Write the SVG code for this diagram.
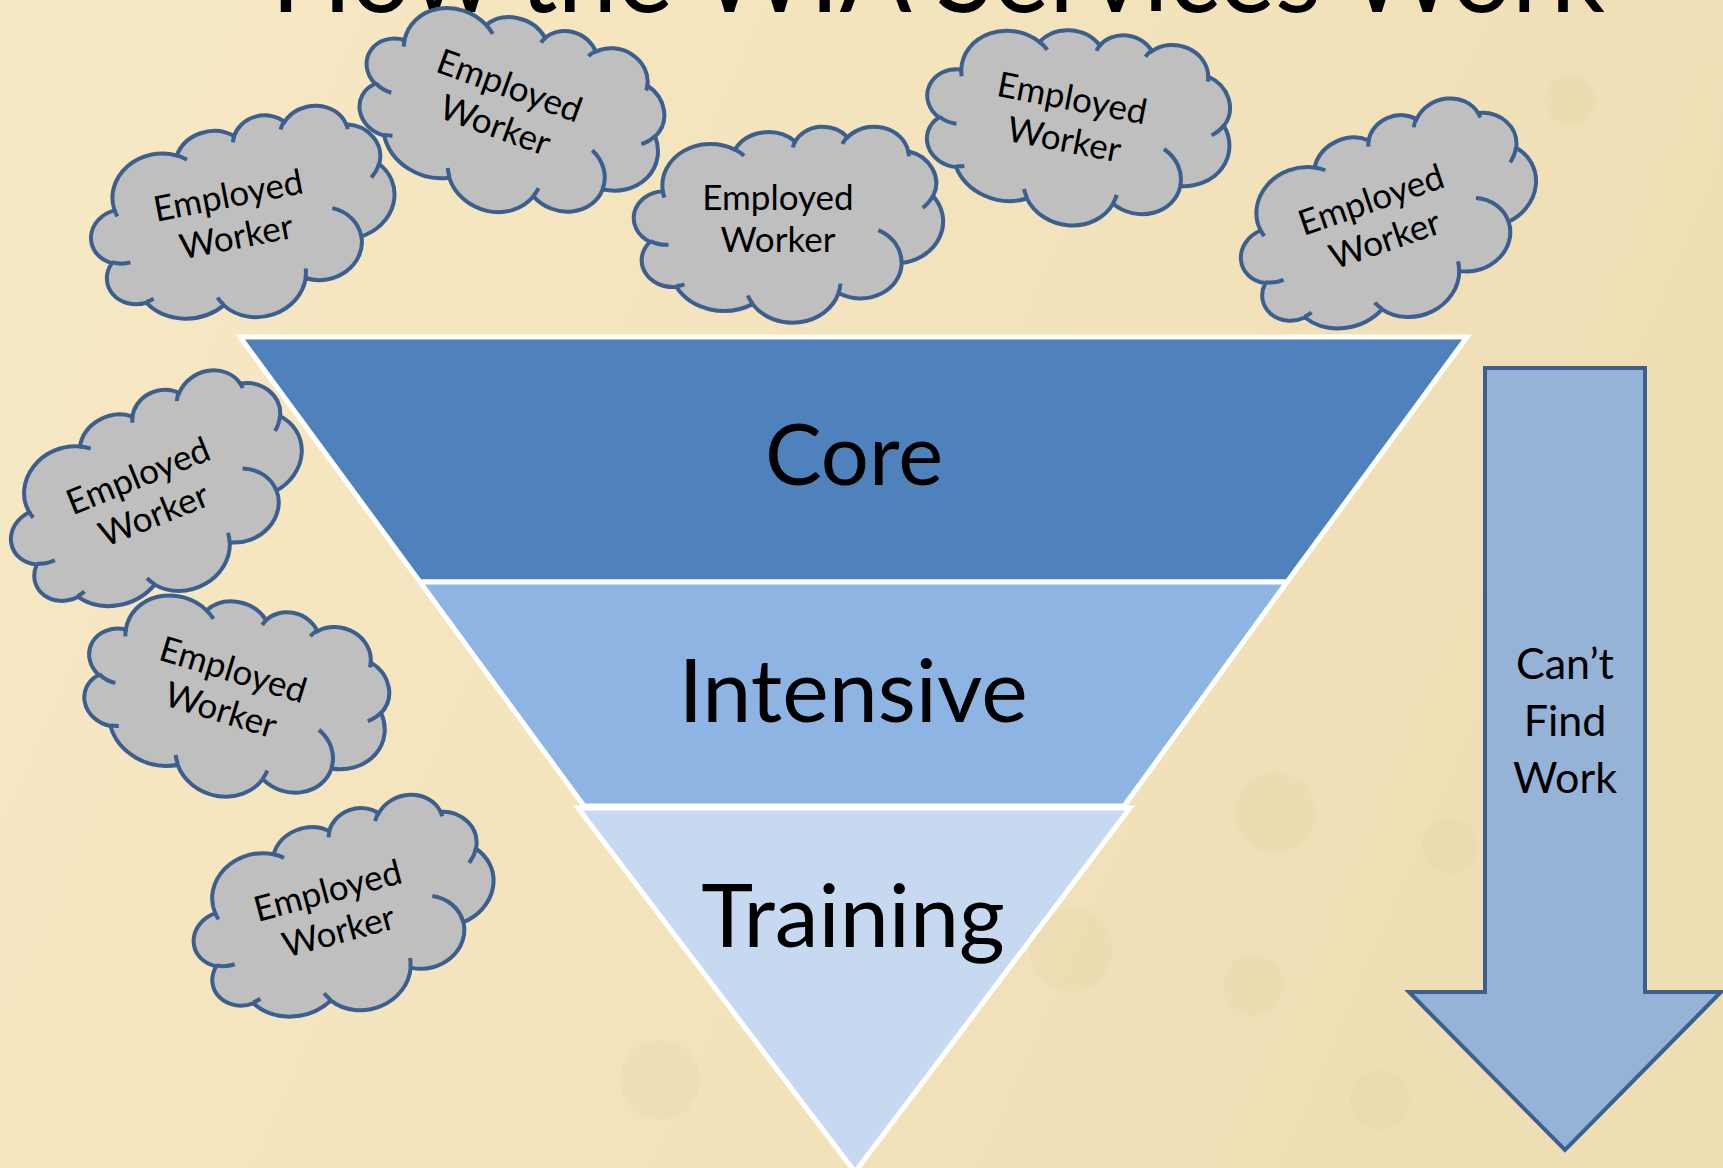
<svg xmlns="http://www.w3.org/2000/svg" xmlns:xlink="http://www.w3.org/1999/xlink" width="1723" height="1168" viewBox="0 0 1723 1168">
<style>
.cs{fill:#BFBFBF;stroke:#3B5F8F;stroke-width:4}
.ci{fill:none;stroke:#3B5F8F;stroke-width:4}
.ct{font-family:Lato,"Open Sans",sans-serif;font-size:35px;fill:#000;text-anchor:middle}
.fun{stroke:#FFFFFF;stroke-width:5;stroke-linejoin:miter}
.big{font-family:Lato,"Open Sans",sans-serif;font-size:85px;fill:#000;text-anchor:middle}
.arr{fill:#95B3D7;stroke:#3B5F8F;stroke-width:4}
.at{font-family:Lato,"Open Sans",sans-serif;font-size:43px;fill:#000;text-anchor:middle}
.blot{fill:#E3CF9E;opacity:0.2}
</style>
<defs>
<linearGradient id="bg" x1="0" y1="0" x2="1" y2="0.3">
<stop offset="0" stop-color="#F7E9C5"/>
<stop offset="0.5" stop-color="#F4E4BD"/>
<stop offset="1" stop-color="#EFDEB4"/>
</linearGradient>
<path id="cloud" vector-effect="non-scaling-stroke" d="M 39.00 143.70 A 67.53 91.90 0 0 1 140.06 52.02 A 53.33 72.67 0 0 1 224.56 34.32 A 43.65 59.45 0 0 1 298.34 24.81 A 48.57 65.95 0 0 1 383.19 55.77 A 53.33 72.73 0 0 1 418.19 154.60 A 67.75 92.20 0 0 1 374.04 302.01 A 57.85 78.67 0 0 1 285.55 368.11 A 67.52 92.15 0 0 1 164.80 392.62 A 77.20 105.43 0 0 1 58.03 354.68 A 43.60 59.18 0 0 1 21.12 255.46 A 43.45 59.45 0 0 1 39.00 143.70 Z"/>
<path id="cloudIn" vector-effect="non-scaling-stroke" d="M 46.93 261.77 A 43.45 59.45 0 0 1 21.60 253.80 M 69.28 348.99 A 43.60 59.18 0 0 1 58.19 352.81 M 164.78 390.90 A 67.52 92.15 0 0 1 158.10 373.50 M 288.27 347.51 A 67.52 92.15 0 0 1 285.60 366.60 M 341.29 229.54 A 57.85 78.67 0 0 1 373.80 300.90 M 417.98 153.54 A 53.33 72.73 0 0 1 403.50 180.30 M 383.24 54.26 A 48.57 65.95 0 0 1 384.00 66.90 M 290.78 39.52 A 48.57 65.95 0 0 1 298.20 23.39 M 221.41 47.20 A 43.65 59.45 0 0 1 225.00 33.31 M 140.00 51.92 A 67.53 91.90 0 0 1 152.99 65.40 M 41.27 157.89 A 67.53 91.90 0 0 1 39.00 143.70"/>
</defs>

<g id="background">
<rect x="0" y="0" width="1723" height="1168" fill="url(#bg)"/>
<circle class="blot" cx="1275" cy="813" r="40"/>
<circle class="blot" cx="1071" cy="950" r="42"/>
<circle class="blot" cx="1253" cy="985" r="30"/>
<circle class="blot" cx="1450" cy="846" r="28"/>
<circle class="blot" cx="660" cy="1080" r="40"/>
<circle class="blot" cx="1380" cy="1100" r="30"/>
<circle class="blot" cx="1570" cy="100" r="25"/>
</g>

<g id="title">
<text x="938" y="12" font-family="Lato, 'Open Sans', sans-serif" font-size="112" fill="#000" text-anchor="middle" textLength="1334" lengthAdjust="spacingAndGlyphs">How the WIA Services Work</text>
</g>

<g id="funnel-core">
<polygon class="fun" fill="#4F81BD" points="240,337 1467,337 1287,582 420,582"/>
<text class="big" x="854" y="485">Core</text>
</g>
<g id="funnel-intensive">
<polygon class="fun" fill="#8EB4E3" points="420,582 1287,582 1124,806 584,806"/>
<text class="big" x="853" y="722" style="font-size:88px">Intensive</text>
</g>
<g id="funnel-training">
<polygon class="fun" fill="#C6D9F1" points="578,808 1130,808 855,1172"/>
<text class="big" x="853" y="947" style="font-size:88px">Training</text>
</g>

<g id="arrow-cant-find-work">
<polygon class="arr" points="1485,368 1645,368 1645,992 1721,992 1565,1150 1409,992 1485,992"/>
<text class="at" x="1565" y="679">Can’t</text>
<text class="at" x="1565" y="736">Find</text>
<text class="at" x="1565" y="793">Work</text>
</g>

<g id="cloud-a" transform="translate(244 219) rotate(-11)">
<use xlink:href="#cloud" class="cs" transform="translate(-153 -99) scale(0.7083 0.4583)"/>
<use xlink:href="#cloudIn" class="ci" transform="translate(-153 -99) scale(0.7083 0.4583)"/>
<text class="ct" x="-11" y="-14">Employed</text>
<text class="ct" x="-11" y="28">Worker</text>
</g>
<g id="cloud-b" transform="translate(511 114) rotate(20)">
<use xlink:href="#cloud" class="cs" transform="translate(-153 -99) scale(0.7083 0.4583)"/>
<use xlink:href="#cloudIn" class="ci" transform="translate(-153 -99) scale(0.7083 0.4583)"/>
<text class="ct" x="-11" y="-14">Employed</text>
<text class="ct" x="-11" y="28">Worker</text>
</g>
<g id="cloud-c" transform="translate(789 224)">
<use xlink:href="#cloud" class="cs" transform="translate(-154 -98) scale(0.7130 0.4537)"/>
<use xlink:href="#cloudIn" class="ci" transform="translate(-154 -98) scale(0.7130 0.4537)"/>
<text class="ct" x="-11" y="-14">Employed</text>
<text class="ct" x="-11" y="28">Worker</text>
</g>
<g id="cloud-d" transform="translate(1078 126) rotate(11)">
<use xlink:href="#cloud" class="cs" transform="translate(-153 -99) scale(0.7083 0.4583)"/>
<use xlink:href="#cloudIn" class="ci" transform="translate(-153 -99) scale(0.7083 0.4583)"/>
<text class="ct" x="-11" y="-14">Employed</text>
<text class="ct" x="-11" y="28">Worker</text>
</g>
<g id="cloud-e" transform="translate(1390 221) rotate(-19)">
<use xlink:href="#cloud" class="cs" transform="translate(-153 -99) scale(0.7083 0.4583)"/>
<use xlink:href="#cloudIn" class="ci" transform="translate(-153 -99) scale(0.7083 0.4583)"/>
<text class="ct" x="-11" y="-14">Employed</text>
<text class="ct" x="-11" y="28">Worker</text>
</g>
<g id="cloud-f" transform="translate(158 496) rotate(-22)">
<use xlink:href="#cloud" class="cs" transform="translate(-153 -99) scale(0.7083 0.4583)"/>
<use xlink:href="#cloudIn" class="ci" transform="translate(-153 -99) scale(0.7083 0.4583)"/>
<text class="ct" x="-11" y="-14">Employed</text>
<text class="ct" x="-11" y="28">Worker</text>
</g>
<g id="cloud-g" transform="translate(236 698) rotate(17)">
<use xlink:href="#cloud" class="cs" transform="translate(-153 -99) scale(0.7083 0.4583)"/>
<use xlink:href="#cloudIn" class="ci" transform="translate(-153 -99) scale(0.7083 0.4583)"/>
<text class="ct" x="-11" y="-14">Employed</text>
<text class="ct" x="-11" y="28">Worker</text>
</g>
<g id="cloud-h" transform="translate(345 913) rotate(-15)">
<use xlink:href="#cloud" class="cs" transform="translate(-153 -99) scale(0.7083 0.4583)"/>
<use xlink:href="#cloudIn" class="ci" transform="translate(-153 -99) scale(0.7083 0.4583)"/>
<text class="ct" x="-11" y="-14">Employed</text>
<text class="ct" x="-11" y="28">Worker</text>
</g>

<g id="connectors"/>
</svg>
